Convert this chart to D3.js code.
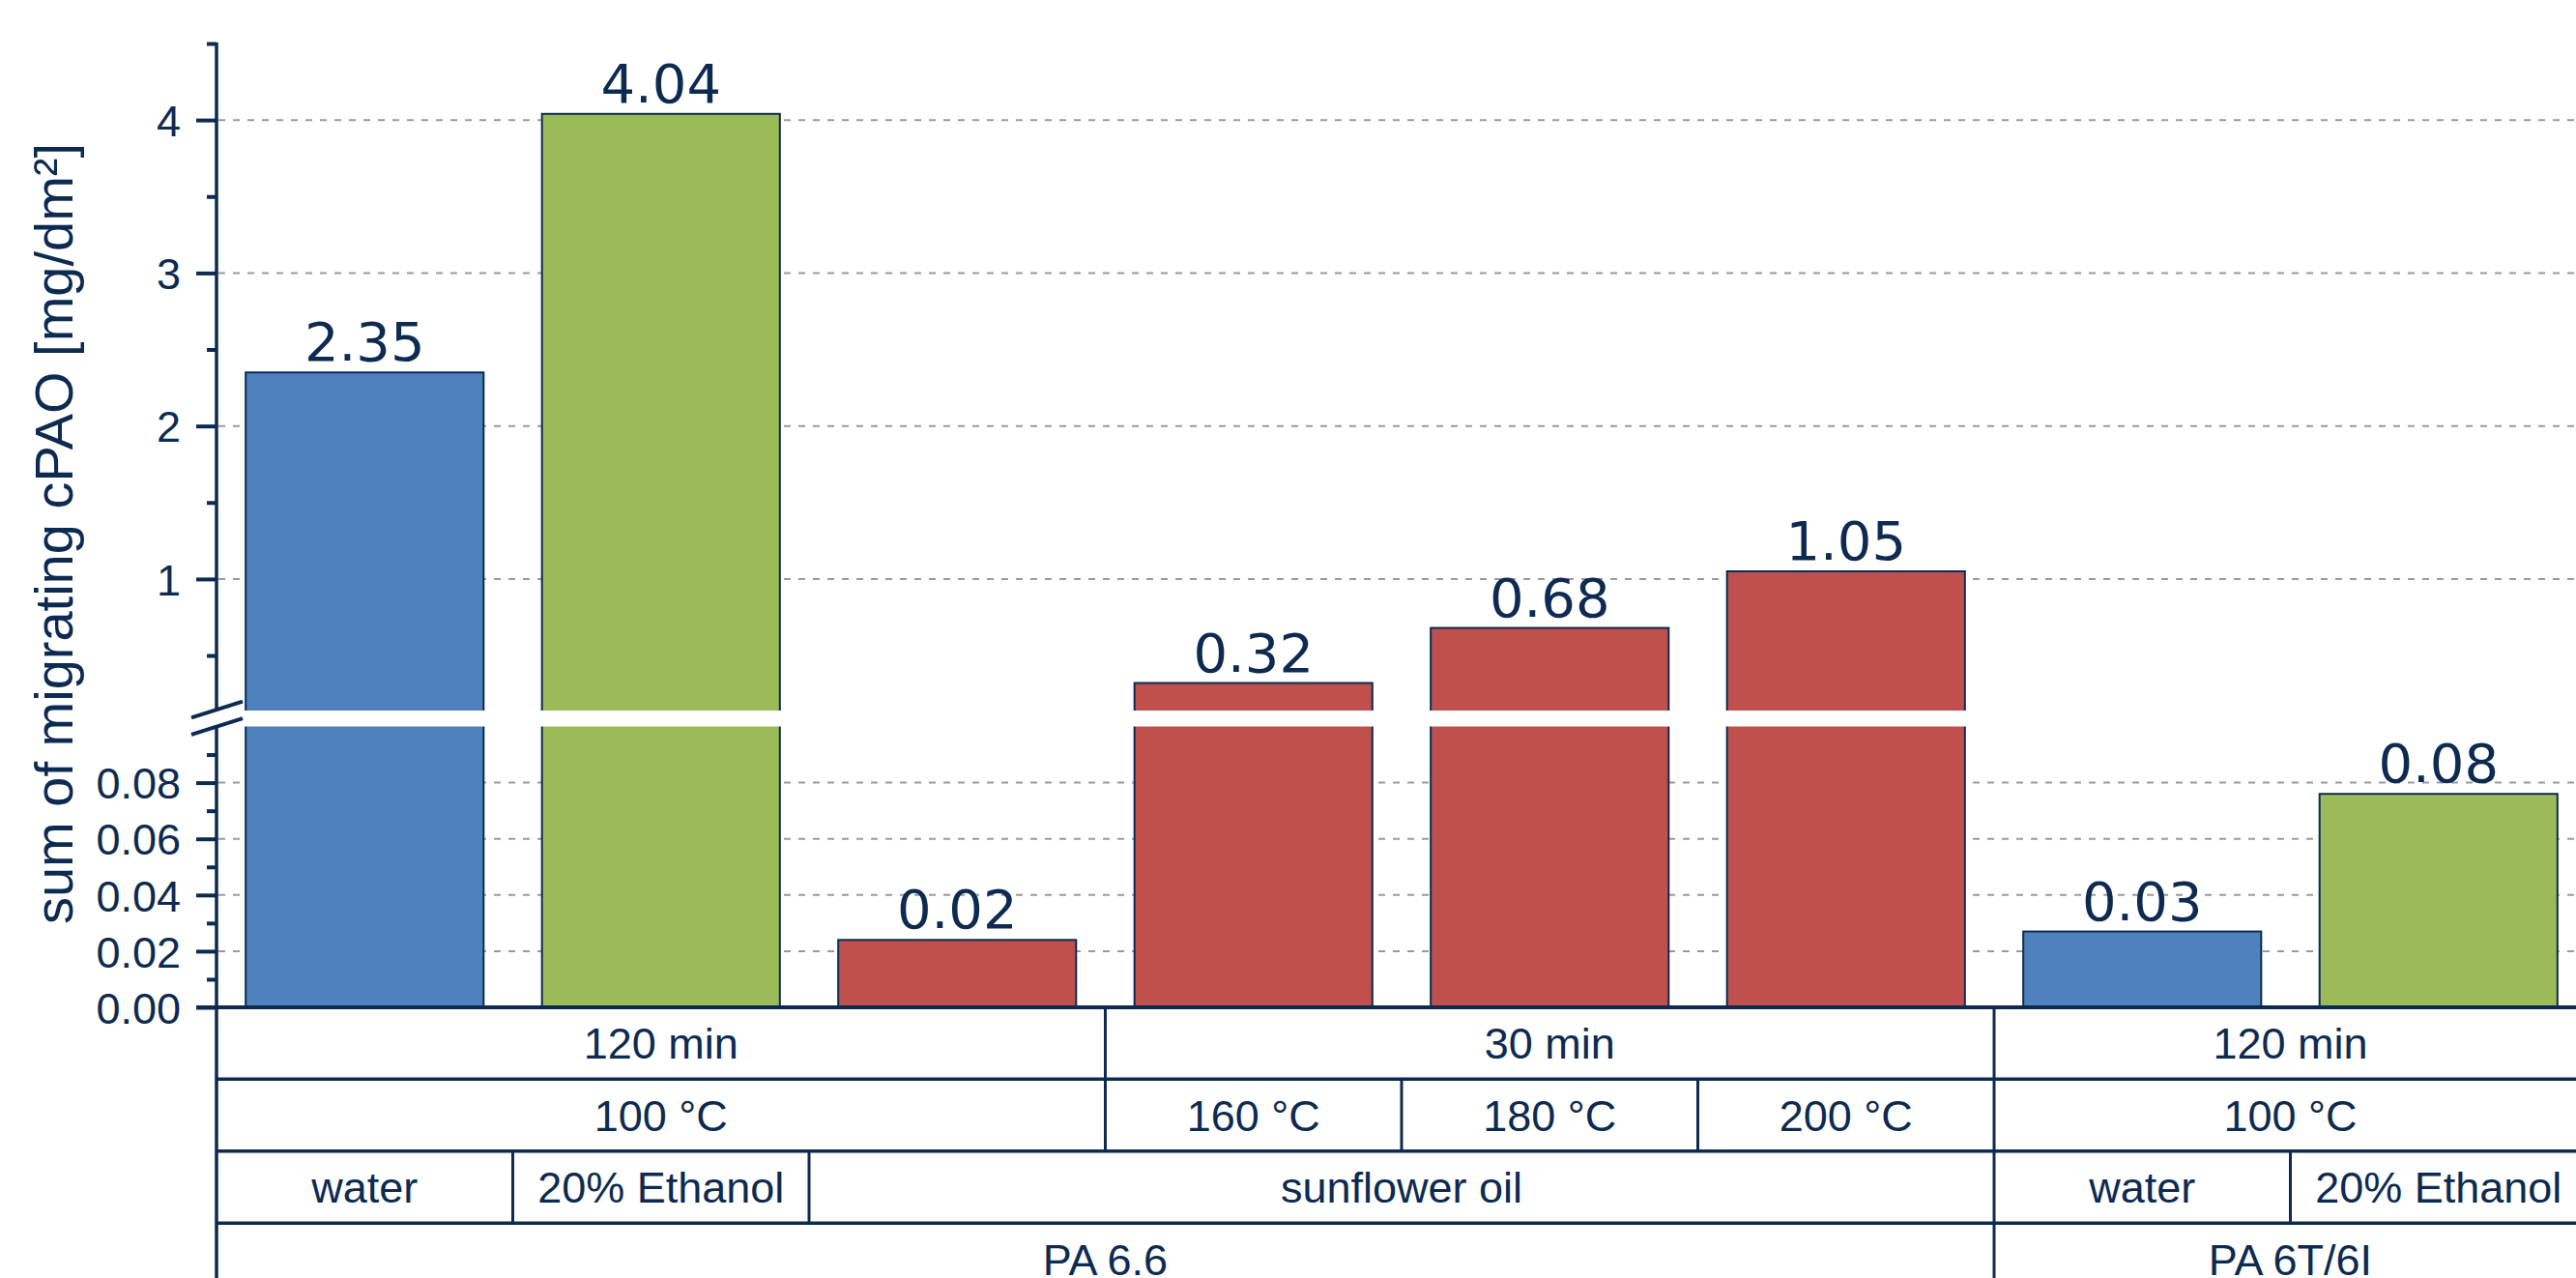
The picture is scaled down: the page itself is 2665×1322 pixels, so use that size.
<!DOCTYPE html>
<html>
<head>
<meta charset="utf-8">
<script src="https://cdn.jsdelivr.net/npm/d3@7"></script>
<style>
  html, body { margin: 0; padding: 0; background: #ffffff; }
  svg { display: block; }
</style>
</head>
<body>
<svg id="chart"></svg>
<script>
// ---- data ---------------------------------------------------------------
const categories = [
  "PA 6.6 | water | 100 °C | 120 min",
  "PA 6.6 | 20% Ethanol | 100 °C | 120 min",
  "PA 6.6 | sunflower oil | 100 °C | 120 min",
  "PA 6.6 | sunflower oil | 160 °C | 30 min",
  "PA 6.6 | sunflower oil | 180 °C | 30 min",
  "PA 6.6 | sunflower oil | 200 °C | 30 min",
  "PA 6T/6I | water | 100 °C | 120 min",
  "PA 6T/6I | 20% Ethanol | 100 °C | 120 min"
];
// sum of migrating cPAO in mg/dm²
const values = [2.35, 4.04, 0.024, 0.32, 0.68, 1.05, 0.027, 0.076];
const simulant = ["water", "ethanol", "oil", "oil", "oil", "oil", "water", "ethanol"];

// header rows below the bars: [label, number of bars spanned]
const timeRow = [["120 min", 3], ["30 min", 3], ["120 min", 2]];
const tempRow = [["100 °C", 3], ["160 °C", 1], ["180 °C", 1], ["200 °C", 1], ["100 °C", 2]];
const mediumRow = [["water", 1], ["20% Ethanol", 1], ["sunflower oil", 4], ["water", 1], ["20% Ethanol", 1]];
const polymerRow = [["PA 6.6", 6], ["PA 6T/6I", 2]];

// axis ticks for the two parts of the broken axis
const upperTicks = [1, 2, 3, 4];
const upperMinor = [0.5, 1.5, 2.5, 3.5, 4.5];
const lowerTicks = [0, 0.02, 0.04, 0.06, 0.08];
const lowerMinor = [0.01, 0.03, 0.05, 0.07, 0.09];

const yTitle = "sum of migrating cPAO [mg/dm²]";

// ---- layout -------------------------------------------------------------
const W = 2665, H = 1322;
const navy = "#0d2a51";
const fills = { water: "#4f81bd", ethanol: "#9bbb59", oil: "#c0504d" };
const axisX = 224;
const breakValue = 0.1;
const breakTop = 735, breakBottom = 751.5;

const svg = d3.select("#chart").attr("width", W).attr("height", H)
  .attr("viewBox", `0 0 ${W} ${H}`);
svg.append("rect").attr("width", W).attr("height", H).attr("fill", "#fff");

const x = d3.scaleBand().domain(categories).range([axisX, 2676])
  .paddingInner(0.197).paddingOuter(0.0985);

const yLow = d3.scaleLinear().domain([0, breakValue]).range([1042, breakBottom]);
const yHigh = d3.scaleLinear().domain([0.14, 4.5]).range([breakTop, 45]);
const yOf = v => (v <= breakValue ? yLow(v) : yHigh(v));

// ---- grid ---------------------------------------------------------------
const gridVals = upperTicks.map(v => yHigh(v)).concat(lowerTicks.filter(v => v > 0).map(v => yLow(v)));
svg.append("g").selectAll("line").data(gridVals).join("line")
  .attr("x1", axisX + 2).attr("x2", W)
  .attr("y1", d => d).attr("y2", d => d)
  .attr("stroke", "#9a9a9a").attr("stroke-width", 2)
  .attr("stroke-dasharray", "7,8");

// ---- bars ---------------------------------------------------------------
svg.append("g").selectAll("rect").data(values).join("rect")
  .attr("x", (d, i) => x(categories[i]))
  .attr("width", x.bandwidth())
  .attr("y", d => yOf(d))
  .attr("height", d => yLow(0) - yOf(d))
  .attr("fill", (d, i) => fills[simulant[i]])
  .attr("stroke", navy).attr("stroke-width", 2);

// gap across the broken axis
svg.append("rect").attr("x", axisX + 2).attr("y", breakTop)
  .attr("width", W).attr("height", breakBottom - breakTop).attr("fill", "#fff");

// ---- value labels ---------------------------------------------------------
const fmt = d3.format(".2f");
svg.append("g").selectAll("text").data(values).join("text")
  .attr("x", (d, i) => x(categories[i]) + x.bandwidth() / 2)
  .attr("y", d => yOf(d) - 12)
  .attr("text-anchor", "middle")
  .attr("font-family", "'DejaVu Sans', sans-serif")
  .attr("font-size", 56)
  .attr("fill", navy)
  .text(d => fmt(d));

// ---- y axis -----------------------------------------------------------------
function styleAxis(g) {
  g.select(".domain").remove();
  g.selectAll(".tick line").attr("stroke", navy).attr("stroke-width", 4);
  g.selectAll(".tick text")
    .attr("fill", navy)
    .attr("font-family", "'Liberation Sans', Arial, sans-serif")
    .attr("font-size", 45)
    .attr("dy", "0.36em");
}
svg.append("g").attr("transform", `translate(${axisX},0)`)
  .call(d3.axisLeft(yHigh).tickValues(upperTicks).tickSize(21).tickPadding(16).tickFormat(d3.format("d")))
  .call(styleAxis);
svg.append("g").attr("transform", `translate(${axisX},0)`)
  .call(d3.axisLeft(yHigh).tickValues(upperMinor).tickSize(10).tickFormat(""))
  .call(styleAxis);
svg.append("g").attr("transform", `translate(${axisX},0)`)
  .call(d3.axisLeft(yLow).tickValues(lowerTicks).tickSize(21).tickPadding(16).tickFormat(d3.format(".2f")))
  .call(styleAxis);
svg.append("g").attr("transform", `translate(${axisX},0)`)
  .call(d3.axisLeft(yLow).tickValues(lowerMinor).tickSize(10).tickFormat(""))
  .call(styleAxis);

// axis line, interrupted at the break
svg.append("line").attr("x1", axisX).attr("x2", axisX)
  .attr("y1", yHigh(4.5) - 1).attr("y2", breakTop - 1)
  .attr("stroke", navy).attr("stroke-width", 3.5);
svg.append("line").attr("x1", axisX).attr("x2", axisX)
  .attr("y1", breakBottom).attr("y2", H)
  .attr("stroke", navy).attr("stroke-width", 3.5);

// break marks
[breakTop - 1, breakBottom].forEach(cy => {
  svg.append("line")
    .attr("x1", axisX - 26).attr("y1", cy + 8.3)
    .attr("x2", axisX + 27).attr("y2", cy - 8.3)
    .attr("stroke", navy).attr("stroke-width", 4);
});

// axis title
svg.append("text")
  .attr("transform", `translate(75,552) rotate(-90)`)
  .attr("text-anchor", "middle")
  .attr("font-family", "'Liberation Sans', Arial, sans-serif")
  .attr("font-size", 56)
  .attr("fill", navy)
  .text(yTitle);

// ---- category table ----------------------------------------------------------
const step = x.step();
const bandStart = k => x(categories[0]) - x.paddingOuter() * step + k * step;
const rowEdges = [yLow(0), 1116.3, 1190.7, 1265.3, 1340];
const rows = [timeRow, tempRow, mediumRow, polymerRow];

const table = svg.append("g");
// horizontal rules
rowEdges.forEach((yy, i) => {
  table.append("line")
    .attr("x1", i === 0 ? axisX - 21 : axisX).attr("x2", W)
    .attr("y1", yy).attr("y2", yy)
    .attr("stroke", navy).attr("stroke-width", i === 0 ? 4 : 3.5);
});

rows.forEach((row, r) => {
  const top = rowEdges[r], bottom = rowEdges[r + 1];
  let k = 0;
  row.forEach(([label, span], j) => {
    const x0 = bandStart(k), x1 = bandStart(k + span);
    if (j > 0) {
      table.append("line")
        .attr("x1", x0).attr("x2", x0).attr("y1", top).attr("y2", bottom)
        .attr("stroke", navy).attr("stroke-width", 3);
    }
    table.append("text")
      .attr("x", (x0 + x1) / 2)
      .attr("y", (top + bottom) / 2 + 16)
      .attr("text-anchor", "middle")
      .attr("font-family", "'Liberation Sans', Arial, sans-serif")
      .attr("font-size", 45)
      .attr("fill", navy)
      .text(label);
    k += span;
  });
});
</script>
</body>
</html>
